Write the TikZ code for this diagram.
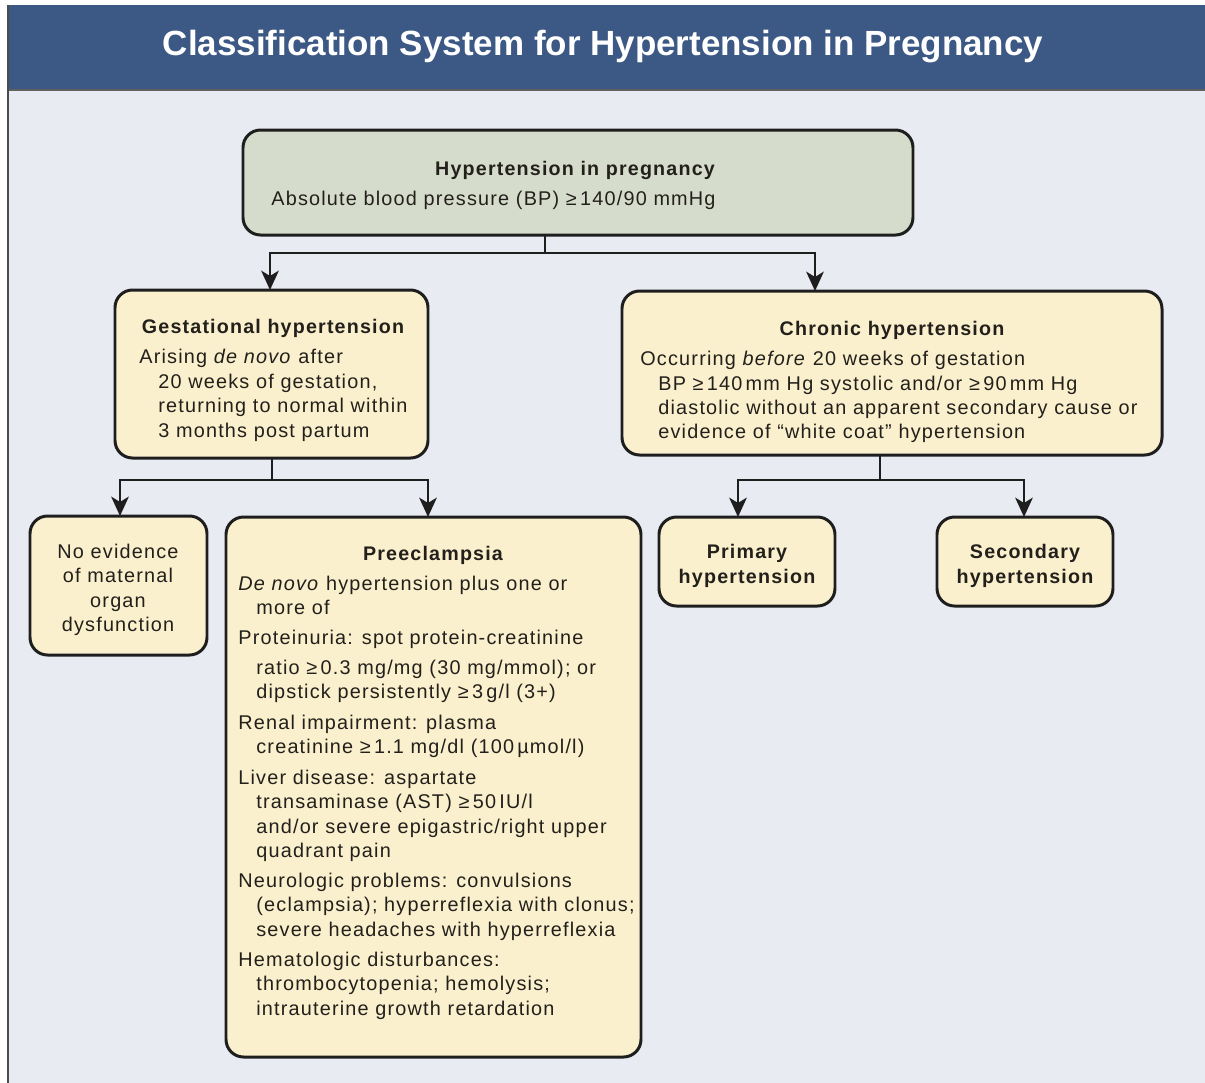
\documentclass[tikz,border=0pt]{standalone}
\usepackage{fontspec}
\setmainfont{Liberation Sans}
\newfontfamily\bodyfont[LetterSpace=6]{Liberation Sans}
\usetikzlibrary{arrows.meta}
\definecolor{bandblue}{RGB}{60,88,132}
\definecolor{bgpanel}{RGB}{232,235,241}
\definecolor{topfill}{RGB}{214,220,203}
\definecolor{boxfill}{RGB}{250,240,205}
\definecolor{inkline}{RGB}{30,30,30}
\definecolor{inktext}{RGB}{35,32,28}
\begin{document}
\begin{tikzpicture}[x=0.02cm,y=-0.02cm,
  box/.style={draw=inkline,line width=1.7pt,rounded corners=10pt,fill=boxfill},
  topbox/.style={box,fill=topfill},
  txt/.style={anchor=base west,inner sep=0pt,text=inktext,font=\bodyfont\fontsize{11.3pt}{13pt}\selectfont},
  ctxt/.style={txt,anchor=base},
  btxt/.style={ctxt,font=\bodyfont\bfseries\fontsize{11.2pt}{13pt}\selectfont},
  conn/.style={draw=inkline,line width=1.4pt},
  arr/.style={conn,-{Stealth[length=11pt,width=10pt,inset=3pt]}}]
\useasboundingbox (0,0) rectangle (1205,1083);
\fill[white] (0,0) rectangle (1205,1083);
\fill[bgpanel] (7,90) rectangle (1205,1083);
\fill[bandblue] (7,5) rectangle (1205,90);
\draw[inkline!70,line width=0.8pt] (7,90) -- (1205,90);
\draw[inkline!80,line width=1.4pt] (8,5) -- (8,1083);
\node[text=white,font=\bfseries\fontsize{19.9pt}{22pt}\selectfont] (title) at (603,47) {Classification System for Hypertension in Pregnancy};

% top box
\path[topbox] (243,130) rectangle (913,235);
\node[btxt] (hipt) at (575,175) {Hypertension in pregnancy};
\node[txt] (hipb) at (271,205) {Absolute blood pressure (BP) \char"2265\,140/90 mmHg};
\coordinate (topb) at (545,235);

% gestational
\path[box] (115,290) rectangle (428,458);
\node[btxt] (gt) at (273,333) {Gestational hypertension};
\node[txt] (g1) at (139,363) {Arising \textit{de novo} after};
\node[txt] (g2) at (158,388) {20 weeks of gestation,};
\node[txt] (g3) at (158,412) {returning to normal within};
\node[txt] (g4) at (158,437) {3 months post partum};
\coordinate (gtop) at (270,290);
\coordinate (gbot) at (272,458);

% chronic
\path[box] (622,291) rectangle (1162,455);
\node[btxt] (ct) at (892,335) {Chronic hypertension};
\node[txt] (c1) at (640,365) {Occurring \textit{before} 20 weeks of gestation};
\node[txt] (c2) at (658,390) {BP \char"2265\,140\,mm Hg systolic and/or \char"2265\,90\,mm Hg};
\node[txt] (c3) at (658,414) {diastolic without an apparent secondary cause or};
\node[txt] (c4) at (658,438) {evidence of \char"201Cwhite coat\char"201D\ hypertension};
\coordinate (ctop) at (815,291);
\coordinate (cbot) at (880,455);

% no evidence
\path[box] (30,516) rectangle (207,655);
\node[ctxt] (n1) at (118,558) {No evidence};
\node[ctxt] (n2) at (118,582) {of maternal};
\node[ctxt] (n3) at (118,607) {organ};
\node[ctxt] (n4) at (118,631) {dysfunction};
\coordinate (ntop) at (120,516);

% preeclampsia
\path[box] (226,517) rectangle (641,1057);
\node[btxt] (pt) at (433,560) {Preeclampsia};
\node[txt] (p1) at (238,590) {\textit{De novo} hypertension plus one or};
\node[txt] (p2) at (256,614) {more of};
\node[txt] (p3) at (238,644) {Proteinuria: spot protein-creatinine};
\node[txt] (p4) at (256,674) {ratio \char"2265\,0.3 mg/mg (30 mg/mmol); or};
\node[txt] (p5) at (256,698) {dipstick persistently \char"2265\,3\,g/l (3+)};
\node[txt] (p6) at (238,729) {Renal impairment: plasma};
\node[txt] (p7) at (256,753) {creatinine \char"2265\,1.1 mg/dl (100\,\char"00B5mol/l)};
\node[txt] (p8) at (238,784) {Liver disease: aspartate};
\node[txt] (p9) at (256,808) {transaminase (AST) \char"2265\,50\,IU/l};
\node[txt] (p10) at (256,833) {and/or severe epigastric/right upper};
\node[txt] (p11) at (256,857) {quadrant pain};
\node[txt] (p12) at (238,887) {Neurologic problems: convulsions};
\node[txt] (p13) at (256,911) {(eclampsia); hyperreflexia with clonus;};
\node[txt] (p14) at (256,936) {severe headaches with hyperreflexia};
\node[txt] (p15) at (238,966) {Hematologic disturbances:};
\node[txt] (p16) at (256,990) {thrombocytopenia; hemolysis;};
\node[txt] (p17) at (256,1015) {intrauterine growth retardation};
\coordinate (ptop) at (428,517);

% primary / secondary
\path[box] (659,517) rectangle (835,606);
\node[btxt] (pr1) at (747,558) {Primary};
\node[btxt] (pr2) at (747,583) {hypertension};
\coordinate (prtop) at (738,517);
\path[box] (937,517) rectangle (1113,606);
\node[btxt] (se1) at (1025,558) {Secondary};
\node[btxt] (se2) at (1025,583) {hypertension};
\coordinate (setop) at (1024,517);

% connectors
\draw[conn] (topb) -- (545,253);
\draw[arr] (545,253) -| (gtop);
\draw[arr] (545,253) -| (ctop);
\draw[conn] (gbot) -- (272,480);
\draw[arr] (272,480) -| (ntop);
\draw[arr] (272,480) -| (ptop);
\draw[conn] (cbot) -- (880,480);
\draw[arr] (880,480) -| (prtop);
\draw[arr] (880,480) -| (setop);
\end{tikzpicture}
\end{document}
